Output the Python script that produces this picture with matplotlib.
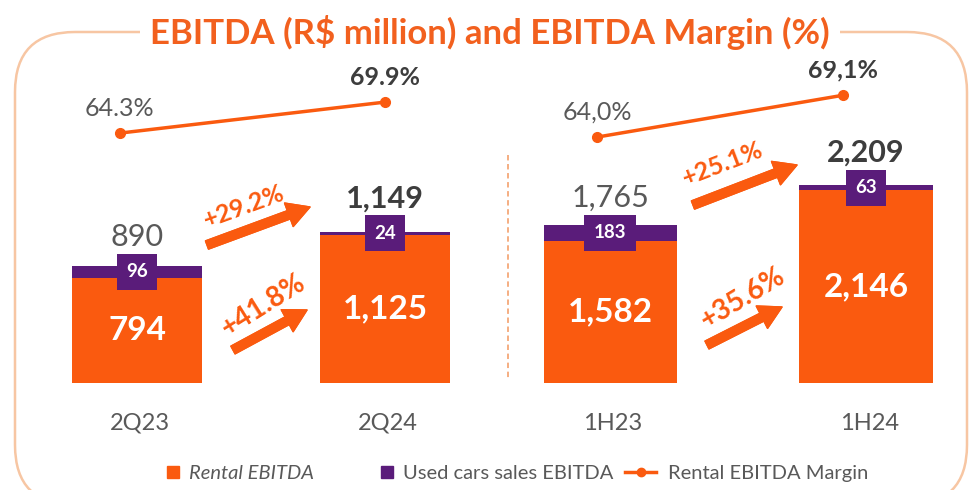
import matplotlib
matplotlib.use("Agg")
import matplotlib.pyplot as plt
from matplotlib.patches import FancyBboxPatch
from matplotlib.lines import Line2D

plt.rcParams['font.family'] = ['Lato', 'DejaVu Sans']

# data
quarter_labels = ['2Q23', '2Q24']
quarter_rental = [794, 1125]
quarter_used = [96, 24]
quarter_total = [890, 1149]
quarter_margin = [64.3, 69.9]
quarter_margin_txt = ['64.3%', '69.9%']
quarter_growth = ['+29.2%', '+41.8%']

half_labels = ['1H23', '1H24']
half_rental = [1582, 2146]
half_used = [183, 63]
half_total = [1765, 2209]
half_margin = [64.0, 69.1]
half_margin_txt = ['64,0%', '69,1%']
half_growth = ['+25.1%', '+35.6%']

legend_labels = ['Rental EBITDA', 'Used cars sales EBITDA', 'Rental EBITDA Margin']

ORANGE = '#FA5A0F'
PURPLE = '#5A1C7A'
TITLE_C = '#F2601E'
GRAY = '#595959'
DARK = '#3D3D3D'
PEACH = '#F7C6A3'

W, H = 969, 490
fig = plt.figure(figsize=(W / 100, H / 100), dpi=100)


def fig_px(x, y):
    # image pixel coords (top-left origin) -> figure pixels
    return (x, H - y)


def draw_group(rect, labels, rental, used, total, margin, margin_txt,
               xlim, ylim, mlim, line_dx, width):
    ax = fig.add_axes(rect)
    ax.axis('off')
    ax.set_xlim(*xlim)
    ax.set_ylim(*ylim)
    xs = list(range(len(labels)))
    ax.bar(xs, rental, width=width, color=ORANGE)
    ax.bar(xs, used, bottom=rental, width=width, color=PURPLE)
    for i, x in enumerate(xs):
        ax.text(x, rental[i] / 2, f'{rental[i]:,}', ha='center', va='center',
                color='white', fontsize=24, weight='bold')
        ax.text(x, rental[i] + used[i] / 2, f'{used[i]}', ha='center', va='center',
                color='white', fontsize=13.5, weight='bold',
                bbox=dict(boxstyle='square,pad=0.5', fc=PURPLE, ec='none'))
        last = i == len(xs) - 1
        ax.annotate(f'{total[i]:,}', (x, rental[i] + used[i] / 2), xytext=(0, 26),
                    textcoords='offset pixels', ha='center', va='baseline',
                    fontsize=22, color=DARK if last else GRAY,
                    weight='bold' if last else 'normal')
        ax.annotate(labels[i], (x, 0), xytext=(3, -40), textcoords='offset pixels',
                    ha='center', va='center', fontsize=17, color=GRAY)
    ax2 = ax.twinx()
    ax2.axis('off')
    ax2.set_ylim(*mlim)
    mx = [x + d for x, d in zip(xs, line_dx)]
    ax2.plot(mx, margin, color=ORANGE, lw=2.5, marker='o', ms=7)
    for i, x in enumerate(mx):
        last = i == len(xs) - 1
        ax2.annotate(margin_txt[i], (x, margin[i]), xytext=(0, 25),
                     textcoords='offset pixels', ha='center', va='center',
                     fontsize=18, color=DARK if last else GRAY,
                     weight='bold' if last else 'normal')


draw_group([20 / W, 107 / H, 475 / W, 323 / H], quarter_labels, quarter_rental,
           quarter_used, quarter_total, quarter_margin, quarter_margin_txt,
           (-0.472, 1.444), (0, 2450), (19.2, 77.5), [-0.07, 0.0], 0.524)
draw_group([500 / W, 107 / H, 460 / W, 323 / H], half_labels, half_rental,
           half_used, half_total, half_margin, half_margin_txt,
           (-0.43, 1.367), (0, 3600), (34.0, 73.4), [-0.05, -0.09], 0.52)

# growth arrows and labels
arrows = [((207, 245), (310, 207), (244, 207), 20, 18, quarter_growth[0]),
          ((233, 350), (307, 310), (263, 305), 32, 20, quarter_growth[1]),
          ((693, 205), (797, 165), (723, 164), 21, 18, half_growth[0]),
          ((707, 345), (782, 307), (743, 298), 31, 20, half_growth[1])]
for tail, tip, tpos, rot, fs, txt in arrows:
    fig.add_artist(plt.annotate(
        '', xy=fig_px(*tip), xytext=fig_px(*tail), xycoords='figure pixels',
        textcoords='figure pixels',
        arrowprops=dict(arrowstyle='simple,head_length=0.9,head_width=1.0,tail_width=0.35',
                        mutation_scale=18, color=ORANGE, shrinkA=0, shrinkB=0)))
    tx, ty = fig_px(*tpos)
    fig.text(tx / W, ty / H, txt, ha='center', va='center', rotation=rot,
             rotation_mode='anchor', fontsize=fs, weight='bold', color=ORANGE)

# frame, title, divider
frame = FancyBboxPatch((0.15, -0.15), 9.52, 4.73,
                       boxstyle='round,pad=0,rounding_size=0.6',
                       transform=fig.dpi_scale_trans, fill=False,
                       edgecolor=PEACH, lw=1.8, zorder=1)
fig.add_artist(frame)
fig.text(490 / W, (H - 33) / H, 'EBITDA (R$ million) and EBITDA Margin (%)',
         ha='center', va='center', fontsize=25, weight='bold', color=TITLE_C,
         bbox=dict(boxstyle='square,pad=0.3', fc='white', ec='none'), zorder=3)
fig.add_artist(Line2D([5.08, 5.08], [3.35, 1.10], transform=fig.dpi_scale_trans,
                      color='#F4A878', lw=1.3, ls=(0, (3, 2))))

# legend: one entry per legend so each can sit where the reference has it
handles = [Line2D([], [], marker='s', ls='none', color=ORANGE, ms=8),
           Line2D([], [], marker='s', ls='none', color=PURPLE, ms=8),
           Line2D([], [], marker='o', color=ORANGE, lw=2.5, ms=6)]
leg_x = [163, 377, 625]
leg_len = [1.0, 1.0, 1.55]
leg_pad = [0.3, 0.3, 0.6]
for h, lab, x, hl, tp in zip(handles, legend_labels, leg_x, leg_len, leg_pad):
    leg = fig.legend([h], [lab], loc='center left', frameon=False,
                     bbox_to_anchor=(x / W, (H - 473) / H), fontsize=14.5,
                     handlelength=hl, handletextpad=tp, borderpad=0,
                     borderaxespad=0, labelcolor=GRAY)
    if lab == 'Rental EBITDA':
        leg.get_texts()[0].set_style('italic')

fig.savefig('out.png', dpi=100, facecolor='white')
